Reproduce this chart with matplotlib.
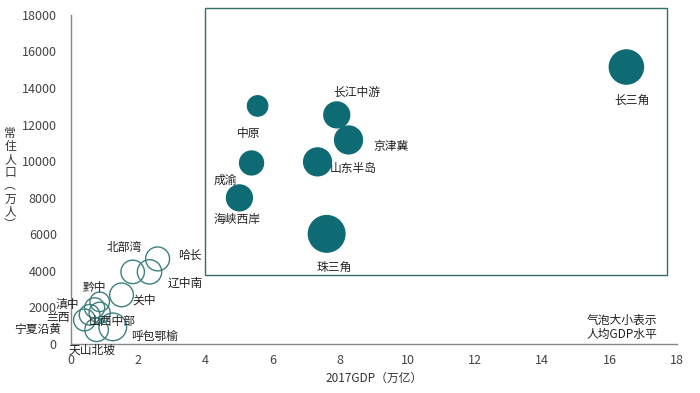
import matplotlib.pyplot as plt
from matplotlib.patches import Rectangle

plt.rcParams['font.family'] = ['Noto Sans CJK SC', 'DejaVu Sans']

# big city clusters (filled bubbles)
big_names = ["长三角", "长江中游", "京津冀", "中原", "山东半岛", "成渝", "海峡西岸", "珠三角"]
big_gdp = [16.5, 7.9, 8.25, 5.55, 7.33, 5.37, 5.01, 7.6]
big_pop = [15150, 12530, 11160, 13020, 9960, 9900, 7990, 6020]
big_pcgdp = [11.0, 6.3, 7.3, 3.9, 7.3, 5.4, 6.3, 12.6]
big_offsets = [(6, -33), (20, 23), (42, -7), (-9, -28), (36, -7), (-26, -17), (-2, -22), (7, -33)]

# small clusters (open bubbles)
small_names = ["哈长", "北部湾", "辽中南", "关中", "黔中", "滇中", "兰西", "山西中部",
               "宁夏沿黄", "呼包鄂榆", "天山北坡"]
small_gdp = [2.58, 1.84, 2.34, 1.51, 0.86, 0.71, 0.56, 0.86, 0.41, 1.25, 0.77]
small_pop = [4650, 3940, 3940, 2680, 2300, 1970, 1590, 1700, 1310, 930, 770]
small_pcgdp = [5.4, 5.2, 5.6, 5.3, 3.6, 3.8, 4.0, 4.2, 4.5, 7.2, 5.2]
small_offsets = [(32, 4), (-8, 24), (36, -11), (23, -5), (-5, 14), (-27, 3), (-31, -3),
                 (13, -9), (-47, -10), (42, -10), (-5, -20)]

teal = "#0f6b73"
size_k = 55  # marker area per unit of per-capita GDP

fig = plt.figure(figsize=(7, 3.93), dpi=100)
ax = fig.add_axes([0.101, 0.125, 0.866, 0.837])

ax.scatter(big_gdp, big_pop, s=[v * size_k for v in big_pcgdp], color=teal,
           edgecolor=teal, linewidth=1, zorder=3, clip_on=False)
ax.scatter(small_gdp, small_pop, s=[v * size_k for v in small_pcgdp], facecolor="none",
           edgecolor="#3f7f80", linewidth=1, zorder=3, clip_on=False)

for name, x, y, off in zip(big_names, big_gdp, big_pop, big_offsets):
    ax.annotate(name, (x, y), xytext=(off[0] * 0.72, off[1] * 0.72), textcoords="offset points",
                ha="center", va="center", fontsize=8.5, color="#222222")
for name, x, y, off in zip(small_names, small_gdp, small_pop, small_offsets):
    ax.annotate(name, (x, y), xytext=(off[0] * 0.72, off[1] * 0.72), textcoords="offset points",
                ha="center", va="center", fontsize=8.5, color="#222222", zorder=4)

ax.add_patch(Rectangle((4.0, 3780), 13.7, 14600, fill=False, edgecolor="#2f6f70",
                       linewidth=1, clip_on=False))

ax.set_xlim(0, 18)
ax.set_ylim(0, 18000)
ax.set_xticks(range(0, 19, 2))
ax.set_yticks(range(0, 18001, 2000))
ax.tick_params(length=0, labelsize=9, labelcolor="#444444")
ax.tick_params(axis="y", pad=10)
ax.tick_params(axis="x", pad=7)
for s in ["top", "right"]:
    ax.spines[s].set_visible(False)
for s in ["left", "bottom"]:
    ax.spines[s].set_color("#888888")
    ax.spines[s].set_linewidth(1)

ax.set_xlabel("2017GDP（万亿）", fontsize=8.5, color="#333333", labelpad=4)
ax.set_ylabel("\n".join(["常", "住", "人", "口", "︵", "万", "人", "︶"]), rotation=0,
              fontsize=8.5, color="#333333", va="center", ha="center", linespacing=1.0)
ax.yaxis.set_label_coords(-0.1, 0.5)

ax.text(0.91, 0.05, "气泡大小表示\n人均GDP水平", transform=ax.transAxes, ha="center",
        va="center", fontsize=8.5, color="#222222", linespacing=1.2)

plt.savefig("out.png", dpi=100)
plt.close()
